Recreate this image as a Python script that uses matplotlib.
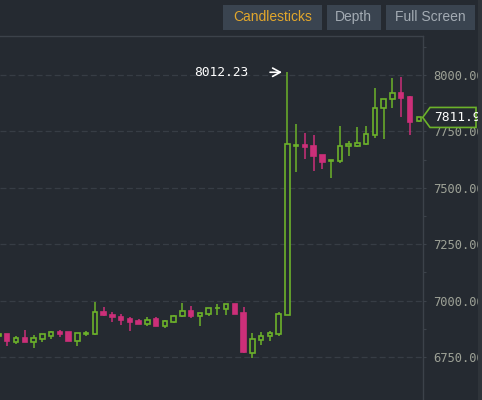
import numpy as np
import matplotlib
matplotlib.use("Agg")
import matplotlib.pyplot as plt
from matplotlib.patches import Rectangle, Polygon

# ---- data (OHLC) ----
opens  = [6845, 6850, 6818, 6834, 6818, 6830, 6844, 6862, 6862, 6821,
          6853, 6850, 6951, 6936, 6929, 6918, 6908, 6895, 6917, 6887,
          6906, 6930, 6955, 6933, 6940, 6966, 6964, 6985, 6946, 6769,
          6825, 6843, 6850, 6936, 7684, 7688, 7685, 7644, 7619, 7620,
          7684, 7685, 7694, 7734, 7852, 7892, 7922, 7904, 7795]
highs  = [6852, 6852, 6843, 6870, 6847, 6852, 6864, 6870, 6863, 6857,
          6864, 6994, 6970, 6949, 6939, 6926, 6917, 6926, 6926, 6912,
          6934, 6989, 6976, 6946, 6967, 6983, 6986, 6987, 6970, 6855,
          6859, 6865, 6951, 8012.23, 7783, 7741, 7734, 7645, 7623, 7774,
          7709, 7768, 7775, 7941, 7892, 7985, 7993, 7907, 7815]
lows   = [6842, 6799, 6809, 6815, 6788, 6818, 6831, 6837, 6819, 6799,
          6843, 6849, 6933, 6904, 6892, 6866, 6895, 6889, 6886, 6880,
          6902, 6929, 6921, 6887, 6933, 6936, 6937, 6940, 6766, 6744,
          6804, 6821, 6843, 6935, 7571, 7628, 7576, 7582, 7542, 7609,
          7642, 7680, 7690, 7719, 7715, 7855, 7815, 7734, 7793]
closes = [6850, 6821, 6836, 6818, 6836, 6850, 6862, 6852, 6820, 6856,
          6856, 6951, 6935, 6929, 6914, 6904, 6896, 6913, 6887, 6911,
          6933, 6955, 6930, 6946, 6967, 6968, 6983, 6942, 6773, 6828,
          6844, 6858, 6939, 7693, 7690, 7680, 7641, 7614, 7623, 7687,
          7693, 7699, 7738, 7854, 7892, 7922, 7897, 7790, 7811.9]
ytick_values = [6750, 7000, 7250, 7500, 7750, 8000]
buttons = ["Candlesticks", "Depth", "Full Screen"]

# ---- style ----
BG = "#252a31"
GRID = "#373d45"
SPINE = "#3c424a"
GREEN = "#6cb22a"
PINK = "#cc2f79"
TICKC = "#9da196"
plt.rcParams["lines.scale_dashes"] = False

W, H = 482, 400
fig = plt.figure(figsize=(W / 100, H / 100), dpi=100, facecolor=BG)
ax = fig.add_axes([0, 0, 423 / W, 364 / H])
ax.set_facecolor(BG)

o = np.array(opens, float); h = np.array(highs, float)
l = np.array(lows, float); c = np.array(closes, float)
x = np.arange(len(o))
up = c >= o
cols = [GREEN if u else PINK for u in up]
fills = [BG if u else PINK for u in up]

ax.vlines(x, l, h, colors=cols, linewidth=1.1, zorder=2)
ax.bar(x, np.abs(c - o), bottom=np.minimum(o, c), width=0.5,
       color=fills, edgecolor=cols, linewidth=1.2, zorder=3)

step = 8.753
ax.set_xlim(1.45 / step, (423 + 1.45) / step)
ax.set_ylim(6559.4, 8172.9)

ax.yaxis.tick_right()
ax.set_yticks(ytick_values)
ax.set_yticklabels([f"{v:.2f}" for v in ytick_values])
ax.set_yticks([v + 125 for v in ytick_values], minor=True)
ax.tick_params(axis="y", which="both", length=2.4, width=0.8, color=SPINE,
               pad=5, labelsize=8.7, labelcolor=TICKC)
for t in ax.get_yticklabels():
    t.set_family("DejaVu Sans Mono")
ax.set_xticks([])
ax.grid(axis="y", which="major", color=GRID, linestyle=(0, (4.3, 2.2)), linewidth=0.9)
ax.set_axisbelow(True)
for s in ["left", "bottom"]:
    ax.spines[s].set_visible(False)
for s in ["top", "right"]:
    ax.spines[s].set_color(SPINE)
    ax.spines[s].set_linewidth(1.0)

# ---- high annotation ----
imax = int(np.argmax(h))
ax.annotate("", xy=(imax - 0.3, h[imax]), xytext=(imax - 2.3, h[imax]),
            arrowprops=dict(arrowstyle="->,head_length=0.55,head_width=0.3",
                            color="white", lw=1.2), zorder=5)
ax.text(imax - 4.5, h[imax], f"{h[imax]:.2f}", ha="right", va="center",
        color="white", family="DejaVu Sans Mono", fontsize=9.3, zorder=5)

# ---- last price label ----
fig.canvas.draw()
ylast = ax.transData.transform((0, c[-1]))[1]
poly = Polygon([(422.7, ylast), (430, ylast + 10), (476, ylast + 10),
                (476, ylast - 10), (430, ylast - 10)], closed=True,
               transform=None, facecolor=BG, edgecolor=GREEN, linewidth=1.2,
               zorder=6)
fig.patches.append(poly)
fig.text(434 / W, ylast / H, f"{c[-1]:.2f}", ha="left", va="center",
         color="white", family="DejaVu Sans Mono", fontsize=9.3, zorder=7)

# right edge strip
fig.patches.append(Rectangle((478 / W, 0), 4 / W, 1, transform=fig.transFigure,
                             facecolor="#2f343a", edgecolor="none", zorder=10))

# ---- buttons ----
boxes = [(222.7, 99), (326.7, 54), (385.7, 89)]
tcols = ["#e2a72c", "#a3abb3", "#a3abb3"]
for (bx, bw), label, tc in zip(boxes, buttons, tcols):
    fig.patches.append(Rectangle((bx / W, (H - 30) / H), bw / W, 25 / H,
                                 transform=fig.transFigure, facecolor="#3a4450",
                                 edgecolor="none", zorder=2))
    fig.text((bx + bw / 2) / W, (H - 17.3) / H, label, ha="center", va="center",
             color=tc, family="Liberation Sans", fontsize=10, zorder=3)

fig.savefig("out.png", dpi=100, facecolor=BG)
